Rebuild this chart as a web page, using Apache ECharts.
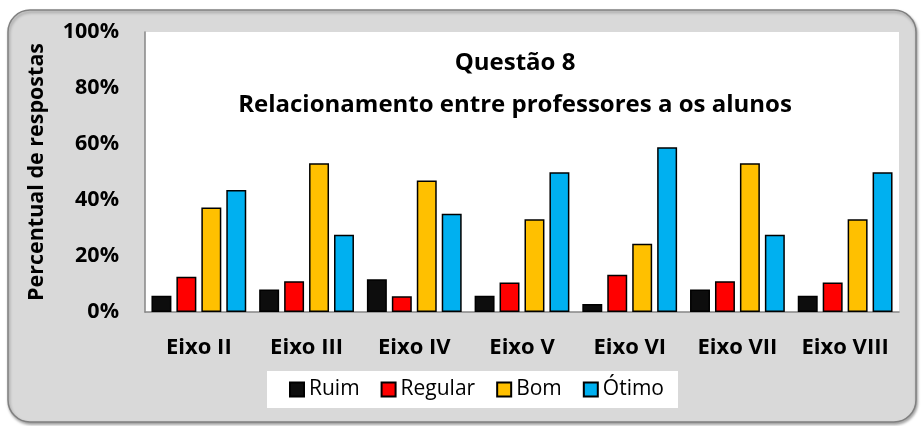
<!DOCTYPE html>
<html>
<head>
<meta charset="utf-8">
<script src="https://cdn.jsdelivr.net/npm/echarts@6/dist/echarts.min.js"></script>
<style>
  html, body { margin: 0; padding: 0; background: #fff; }
  #chart { width: 921px; height: 426px; }
</style>
</head>
<body>
<div id="chart"></div>
<script>
// dados (percentual)
var categorias = ['Eixo II', 'Eixo III', 'Eixo IV', 'Eixo V', 'Eixo VI', 'Eixo VII', 'Eixo VIII'];
var ruim    = [5.8, 8.0, 11.7, 5.8, 2.9, 8.0, 5.8];
var regular = [12.6, 11.0, 5.6, 10.5, 13.3, 11.0, 10.5];
var bom     = [37.3, 53.1, 47.0, 33.1, 24.4, 53.1, 33.1];
var otimo   = [43.6, 27.6, 35.1, 49.9, 58.8, 27.6, 49.9];

var fonte = '"Open Sans", "Noto Sans", sans-serif';
var cores = { Ruim: '#0d0d0d', Regular: '#ff0000', Bom: '#ffc000', 'Ótimo': '#00b0f0' };

function serie(nome, dados) {
    return {
        name: nome,
        type: 'bar',
        data: dados,
        barGap: '25%',
        barCategoryGap: '12%',
        itemStyle: { color: cores[nome], borderColor: '#000', borderWidth: 1.5 },
        emphasis: { disabled: true }
    };
}

var chart = echarts.init(document.getElementById('chart'));
chart.setOption({
    animation: false,
    graphic: [{
        type: 'rect',
        z: -10,
        shape: { x: 8, y: 10, width: 908, height: 412, r: 22 },
        style: { fill: '#d9d9d9', stroke: '#808080', lineWidth: 1.5,
                 shadowBlur: 3, shadowOffsetX: 1, shadowOffsetY: 2, shadowColor: 'rgba(0,0,0,0.35)' }
    }],
    title: {
        text: 'Questão 8\nRelacionamento entre professores a os alunos',
        left: 510,
        top: 37,
        textAlign: 'center',
        textStyle: { fontFamily: fonte, fontWeight: 'bold', fontSize: 24, color: '#000', lineHeight: 42 }
    },
    legend: {
        data: ['Ruim', 'Regular', 'Bom', 'Ótimo'],
        left: 267,
        top: 371,
        width: 411,
        padding: [8, 14, 8, 22],
        backgroundColor: '#fff',
        icon: 'rect',
        itemWidth: 14,
        itemHeight: 14,
        itemGap: 21,
        textStyle: { fontFamily: fonte, fontSize: 21, color: '#000' },
        selectedMode: false
    },
    grid: {
        left: 145, right: 22, top: 32, bottom: 114,
        show: true, backgroundColor: '#fff', borderWidth: 0
    },
    xAxis: {
        type: 'category',
        data: categorias,
        axisLine: { lineStyle: { color: '#868686', width: 1.5 } },
        axisTick: { show: false },
        axisLabel: { interval: 0, fontFamily: fonte, fontWeight: 'bold', fontSize: 22, color: '#000', margin: 25 }
    },
    yAxis: {
        type: 'value',
        min: 0, max: 100, interval: 20,
        name: 'Percentual de respostas',
        nameLocation: 'middle',
        nameGap: 97,
        nameTextStyle: { fontFamily: fonte, fontWeight: 'bold', fontSize: 21.5, color: '#000' },
        axisLine: { show: true, lineStyle: { color: '#868686', width: 1.5 } },
        axisTick: { show: false },
        splitLine: { show: false },
        axisLabel: { formatter: '{value}%', fontFamily: fonte, fontWeight: 'bold', fontSize: 21.5, color: '#000', margin: 26 }
    },
    series: [
        serie('Ruim', ruim),
        serie('Regular', regular),
        serie('Bom', bom),
        serie('Ótimo', otimo)
    ]
});
</script>
</body>
</html>
